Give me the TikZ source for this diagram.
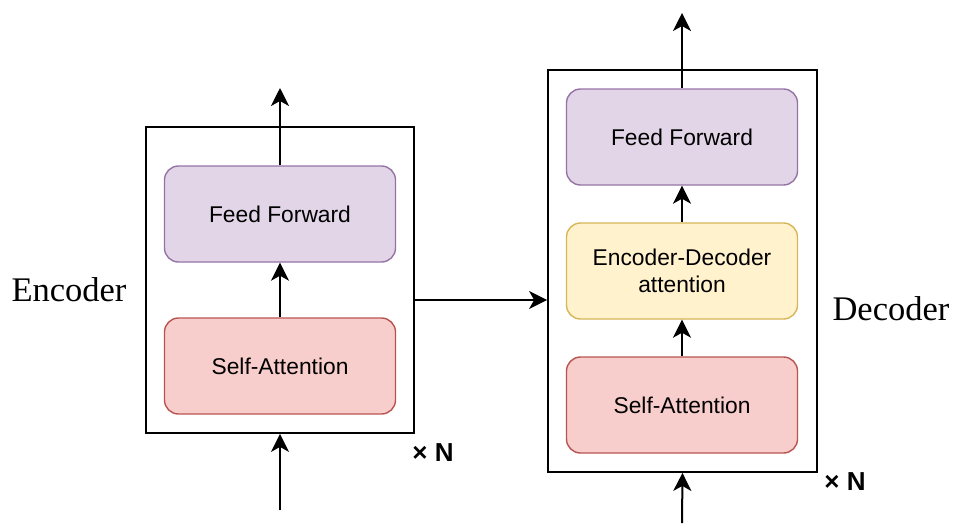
\documentclass[tikz,border=0pt]{standalone}
\usepackage{fontspec}
\setmainfont{Liberation Serif}
\newfontfamily\blockfont{Liberation Sans}
\usetikzlibrary{arrows.meta}

\definecolor{ffFill}{HTML}{E1D5E7}
\definecolor{ffLine}{HTML}{9673A6}
\definecolor{saFill}{HTML}{F8CECC}
\definecolor{saLine}{HTML}{B85450}
\definecolor{edFill}{HTML}{FFF2CC}
\definecolor{edLine}{HTML}{D6B656}

\tikzset{
  stack/.style={draw=black, line width=1.8pt, rectangle},
  block/.style={rectangle, rounded corners=14pt, line width=1.4pt,
    minimum width=231pt, minimum height=96pt, align=center,
    font=\blockfont\fontsize{22.8}{27}\selectfont},
  arr/.style={line width=2pt, -{Stealth[length=18pt,width=18pt,inset=5pt]}},
  side/.style={font=\fontsize{34.5}{40}\selectfont},
  times/.style={font=\blockfont\bfseries\fontsize{26}{30}\selectfont}
}

\begin{document}
\begin{tikzpicture}[x=1pt,y=-1pt]
    \useasboundingbox (0,0) rectangle (953,523);

    % encoder
    \node[stack, minimum width=268pt, minimum height=306pt] (encbox) at (280,280) {};
    \node[block, fill=ffFill, draw=ffLine] (encff) at (280,214) {Feed Forward};
    \node[block, fill=saFill, draw=saLine] (encsa) at (280,366) {Self-Attention};
    \node[side] (enclabel) at (69,290) {Encoder};
    \node[times] (encn) at (433,453) {× N};
    \coordinate (encin) at (280,510);
    \coordinate (encout) at (280,88);

    \draw[arr] (encin) -- (encbox.south);
    \draw[arr] (encsa.north) -- (encff.south);
    \draw[arr] (encff.north) -- (encout);

    % decoder
    \node[stack, minimum width=269pt, minimum height=402pt] (decbox) at (682.5,271) {};
    \node[block, fill=ffFill, draw=ffLine] (decff) at (682,137) {Feed Forward};
    \node[block, fill=edFill, draw=edLine] (decea) at (682,271) {Encoder-Decoder\\attention};
    \node[block, fill=saFill, draw=saLine] (decsa) at (682,405) {Self-Attention};
    \node[side] (declabel) at (891,309) {Decoder};
    \node[times] (decn) at (845,482) {× N};
    \coordinate (decin) at (682,523);
    \coordinate (decout) at (682,13);

    \draw[arr] (decin) -- (decbox.south);
    \draw[arr] (decsa.north) -- (decea.south);
    \draw[arr] (decea.north) -- (decff.south);
    \draw[arr] (decff.north) -- (decout);

    % encoder to decoder
    \draw[arr] (encbox.east |- 0,300) -- (decbox.west |- 0,300);
\end{tikzpicture}
\end{document}
